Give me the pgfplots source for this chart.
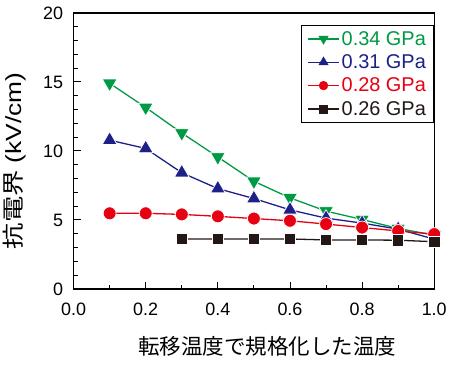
\documentclass[border=0pt]{standalone}
\usepackage{pgfplots}
\pgfplotsset{compat=1.18}
\usepackage{fontspec}
\setmainfont{Liberation Sans}
\newfontfamily\jp{Noto Sans CJK JP}
\definecolor{cgreen}{HTML}{009944}
\definecolor{cblue}{HTML}{1D2088}
\definecolor{cred}{HTML}{E60012}
\definecolor{cblack}{HTML}{231815}
\newcommand{\legtxt}[2]{\fontsize{20bp}{23bp}\selectfont\textcolor{#1}{#2}}
\begin{document}
\begin{tikzpicture}
\begin{axis}[
  name=ax,
  scale only axis,
  width=362bp, height=277bp,
  xmin=0, xmax=1, ymin=0, ymax=20,
  xtick={0,0.2,...,1.0},
  minor x tick num=1,
  ytick={0,5,10,15,20},
  minor y tick num=4,
  xtick pos=bottom, ytick pos=left,
  tick align=inside,
  major tick length=7bp, minor tick length=4bp,
  every tick/.style={line width=0.9bp, black},
  axis line style={line width=1.3bp},
  xticklabel style={/pgf/number format/fixed, /pgf/number format/fixed zerofill, /pgf/number format/precision=1, yshift=-11bp},
  /pgf/number format/assume math mode=true,
  tick label style={font=\fontsize{18bp}{21bp}\selectfont},
  yticklabel style={xshift=-7bp},
  xlabel={\fontsize{21.6bp}{24bp}\selectfont\jp 転移温度で規格化した温度},
  ylabel={\scalebox{1.2}[1]{\fontsize{22bp}{24bp}\selectfont\jp 抗電界\rmfamily\ (kV/cm)}},
  xlabel style={at={(axis description cs:0.537,-0.209)}, anchor=center},
  ylabel style={at={(axis description cs:-0.163,0.464)}, anchor=center},
  clip=false,
  legend style={at={(1,0.957)}, anchor=north east, draw=black, line width=0.8bp,
    font=\fontsize{20bp}{23bp}\selectfont, row sep=4bp, inner xsep=6bp, inner ysep=4bp},
  legend cell align=left,
  legend image code/.code={\draw[mark repeat=2,mark phase=2] plot coordinates {(0cm,0cm) (0.55cm,0cm) (1.1cm,0cm)};},
  every axis plot/.append style={line width=1.3bp},
]
\addplot[cgreen, mark=triangle*, mark size=8.5bp, mark options={rotate=180, fill=cgreen, draw=white, line width=0.7bp}, legend image post style={mark size=5.5bp, mark options={rotate=180, fill=cgreen, draw=cgreen, line width=0.3bp}}]
 coordinates {(0.1,14.9)(0.2,13.15)(0.3,11.3)(0.4,9.56)(0.5,7.8)(0.6,6.6)(0.7,5.64)(0.8,5.03)(0.9,4.38)(1.0,3.9)};
\addlegendentry{\legtxt{cgreen}{0.34 GPa}}
\addplot[cblue, mark=triangle*, mark size=8.5bp, mark options={fill=cblue, draw=white, line width=0.7bp}, legend image post style={mark size=5.5bp, mark options={fill=cblue, draw=cblue, line width=0.3bp}}]
 coordinates {(0.1,10.78)(0.2,10.18)(0.3,8.42)(0.4,7.27)(0.5,6.55)(0.6,5.73)(0.7,5.13)(0.8,4.77)(0.9,4.33)(1.0,3.61)};
\addlegendentry{\legtxt{cblue}{0.31 GPa}}
\addplot[cred, mark=*, mark size=6.5bp, mark options={fill=cred, draw=white, line width=0.7bp}, legend image post style={mark size=4.5bp, mark options={fill=cred, draw=cred, line width=0.3bp}}]
 coordinates {(0.1,5.48)(0.2,5.48)(0.3,5.4)(0.4,5.26)(0.5,5.1)(0.6,4.94)(0.7,4.7)(0.8,4.45)(0.9,4.2)(1.0,3.97)};
\addlegendentry{\legtxt{cred}{0.28 GPa}}
\addplot[cblack, mark=square*, mark size=5.7bp, mark options={fill=cblack, draw=white, line width=0.7bp}, legend image post style={mark size=4bp, mark options={fill=cblack, draw=cblack, line width=0.3bp}}]
 coordinates {(0.3,3.62)(0.4,3.62)(0.5,3.62)(0.6,3.62)(0.7,3.55)(0.8,3.55)(0.9,3.53)(1.0,3.42)};
\addlegendentry{\legtxt{cblack}{0.26 GPa}}
\end{axis}
\path (ax.south west) ++(-73bp,-80bp) rectangle ++(450bp,370bp);
\end{tikzpicture}
\end{document}
